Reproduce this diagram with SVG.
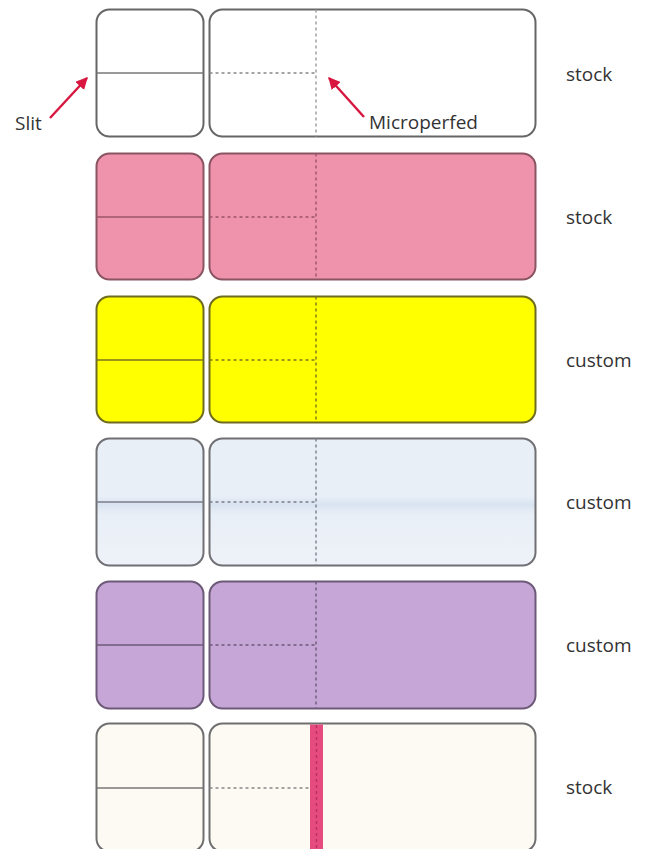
<svg xmlns="http://www.w3.org/2000/svg" width="649" height="849" viewBox="0 0 649 849">
<defs>
<style>
.card{stroke-width:2}
.slit{stroke-width:1.5;fill:none}
.perf{stroke-width:1.4;stroke-dasharray:3 3;fill:none}
.lbl{font-family:"Open Sans","Liberation Sans",sans-serif;font-size:19px;fill:#333}
.arrow{stroke:#d8163f;stroke-width:2.4;fill:none}
</style>
<marker id="ah" viewBox="0 0 10 10" refX="9" refY="5" markerWidth="5" markerHeight="5" orient="auto" markerUnits="strokeWidth">
<path d="M0,0 L10,5 L0,10 z" fill="#d8163f"/>
</marker>
<linearGradient id="blueband" x1="0" y1="0" x2="0" y2="1">
<stop offset="0" stop-color="#e9eff7"/>
<stop offset="0.45" stop-color="#e9eff7"/>
<stop offset="0.52" stop-color="#d9e4f1"/>
<stop offset="0.6" stop-color="#e9eff7"/>
<stop offset="1" stop-color="#eef2f8"/>
</linearGradient>
</defs>
<rect width="649" height="849" fill="#fff"/>

<g id="row1">
<rect class="card" x="96.5" y="9.5" width="107" height="127" rx="13" fill="#fff" stroke="#666"/>
<rect class="card" x="209.5" y="9.5" width="326" height="127" rx="13" fill="#fff" stroke="#666"/>
<line class="slit" x1="96.5" y1="73" x2="203.5" y2="73" stroke="#777"/>
<line class="perf" x1="209.5" y1="73" x2="316" y2="73" stroke="#888"/>
<line class="perf" x1="316" y1="9.5" x2="316" y2="136.5" stroke="#999"/>
<text class="lbl" x="566" y="81">stock</text>
</g>

<g id="row2">
<rect class="card" x="96.5" y="153.5" width="107" height="126" rx="13" fill="#ef92ab" stroke="#8a5563"/>
<rect class="card" x="209.5" y="153.5" width="326" height="126" rx="13" fill="#ef92ab" stroke="#8a5563"/>
<line class="slit" x1="96.5" y1="217" x2="203.5" y2="217" stroke="#9a5468"/>
<line class="perf" x1="209.5" y1="217" x2="316" y2="217" stroke="#9a5468"/>
<line class="perf" x1="316" y1="153.5" x2="316" y2="279.5" stroke="#9a5468"/>
<text class="lbl" x="566" y="224">stock</text>
</g>

<g id="row3">
<rect class="card" x="96.5" y="296.5" width="107" height="126" rx="13" fill="#ffff00" stroke="#6e6a1e"/>
<rect class="card" x="209.5" y="296.5" width="326" height="126" rx="13" fill="#ffff00" stroke="#6e6a1e"/>
<line class="slit" x1="96.5" y1="360" x2="203.5" y2="360" stroke="#7a7520"/>
<line class="perf" x1="209.5" y1="360" x2="316" y2="360" stroke="#7a7520"/>
<line class="perf" x1="316" y1="296.5" x2="316" y2="422.5" stroke="#7a7520"/>
<text class="lbl" x="566" y="367">custom</text>
</g>

<g id="row4">
<rect class="card" x="96.5" y="438.5" width="107" height="127" rx="13" fill="url(#blueband)" stroke="#6f6f74"/>
<rect class="card" x="209.5" y="438.5" width="326" height="127" rx="13" fill="url(#blueband)" stroke="#6f6f74"/>
<line class="slit" x1="96.5" y1="502" x2="203.5" y2="502" stroke="#7a7e88"/>
<line class="perf" x1="209.5" y1="502" x2="316" y2="502" stroke="#7a7e88"/>
<line class="perf" x1="316" y1="438.5" x2="316" y2="565.5" stroke="#7a7e88"/>
<text class="lbl" x="566" y="509">custom</text>
</g>

<g id="row5">
<rect class="card" x="96.5" y="581.5" width="107" height="127" rx="13" fill="#c6a6d6" stroke="#6c5a78"/>
<rect class="card" x="209.5" y="581.5" width="326" height="127" rx="13" fill="#c6a6d6" stroke="#6c5a78"/>
<line class="slit" x1="96.5" y1="645" x2="203.5" y2="645" stroke="#6c5a78"/>
<line class="perf" x1="209.5" y1="645" x2="316" y2="645" stroke="#6c5a78"/>
<line class="perf" x1="316" y1="581.5" x2="316" y2="708.5" stroke="#6c5a78"/>
<text class="lbl" x="566" y="652">custom</text>
</g>

<g id="row6">
<rect class="card" x="96.5" y="723.5" width="107" height="128" rx="13" fill="#fdfaf4" stroke="#6f6f6f"/>
<rect class="card" x="209.5" y="723.5" width="326" height="128" rx="13" fill="#fdfaf4" stroke="#6f6f6f"/>
<line class="slit" x1="96.5" y1="788" x2="203.5" y2="788" stroke="#777"/>
<line class="perf" x1="209.5" y1="788" x2="310" y2="788" stroke="#888"/>
<rect x="310" y="724.5" width="13" height="126" fill="#e64b80"/>
<line class="perf" x1="316.5" y1="725" x2="316.5" y2="849" stroke="#b8305e"/>
<text class="lbl" x="566" y="794">stock</text>
</g>

<g id="connectors">
<line class="arrow" x1="50" y1="118" x2="87" y2="78" marker-end="url(#ah)"/>
<line class="arrow" x1="364" y1="117" x2="329" y2="78" marker-end="url(#ah)"/>
</g>
<g id="annotations">
<text class="lbl" x="15" y="130">Slit</text>
<text class="lbl" x="369" y="129">Microperfed</text>
</g>
</svg>
